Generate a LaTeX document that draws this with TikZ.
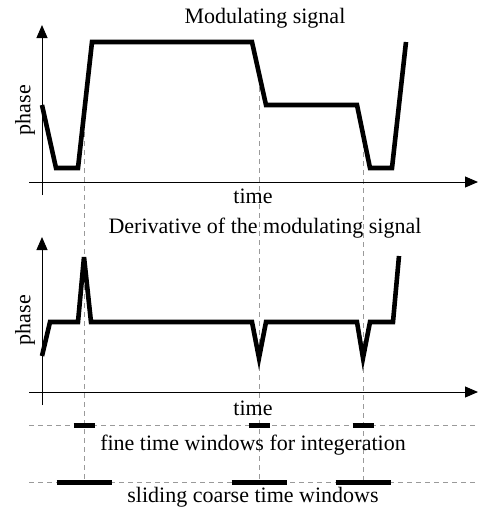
\documentclass[tikz,border=0pt]{standalone}
\usepackage{fontspec}
\setmainfont{Liberation Serif}
\usetikzlibrary{positioning, arrows.meta}
\definecolor{guidegray}{HTML}{9A9A9A}

\begin{document}
\begin{tikzpicture}[x=0.5pt, y=-0.5pt,
    every node/.style={font=\fontsize{11}{13}\selectfont, inner sep=0pt},
    axis/.style={line width=0.5pt, -{Triangle[length=6.5pt, width=5.5pt]}},
    signal/.style={line width=2.3pt},
    guide/.style={guidegray, dash pattern=on 2.5pt off 2pt, line width=0.45pt},
    window/.style={line width=2.5pt}]
  \useasboundingbox (0,0) rectangle (478,510);

  \coordinate (xs1) at (29,182);  \coordinate (xe1) at (478,182);
  \coordinate (ys1) at (42,195);  \coordinate (ye1) at (42,25);
  \coordinate (xs2) at (29,392);  \coordinate (xe2) at (478,392);
  \coordinate (ys2) at (42,405);  \coordinate (ye2) at (42,237);
  \coordinate (fs) at (29,425);   \coordinate (fe) at (478,425);
  \coordinate (cs) at (29,482);   \coordinate (ce) at (478,482);

  \draw[guide] (fs) -- (fe);
  \draw[guide] (cs) -- (ce);
  \foreach \gx/\gy [count=\i] in {84/114, 259/69, 363/134} {
    \coordinate (gtop\i) at (\gx,\gy);
    \coordinate (gbot\i) at (\gx,482);
    \draw[guide] (gtop\i) -- (gbot\i);
  }

  \draw[axis] (xs1) -- (xe1);
  \draw[axis] (ys1) -- (ye1);
  \draw[axis] (xs2) -- (xe2);
  \draw[axis] (ys2) -- (ye2);

  \draw[signal] (42,105) -- (56,168) -- (78,168) -- (92,42) -- (252,42)
    -- (266,105) -- (357,105) -- (370,168) -- (392,168) -- (406,42);
  \draw[signal] (42,356) -- (50,322) -- (78,322) -- (84,257) -- (91,322)
    -- (252,322) -- (259,358) -- (266,322) -- (357,322) -- (363,358)
    -- (370,322) -- (393,322) -- (399,256);

  \foreach \gx in {84,259,363} {
    \draw[window] (\gx-10.5,425) -- (\gx+10.5,425);
    \draw[window] (\gx-27.5,482) -- (\gx+27.5,482);
  }

  \node[anchor=base] (title1) at (265,23) {Modulating signal};
  \node[anchor=base] (title2) at (265,233) {Derivative of the modulating signal};
  \node[rotate=90] (phase1) at (25,110) {phase};
  \node[rotate=90] (phase2) at (25,320) {phase};
  \node[anchor=base] (time1) at (253,203) {time};
  \node[anchor=base] (time2) at (253,415) {time};
  \node[anchor=base] (fine) at (253,450) {fine time windows for integeration};
  \node[anchor=base] (coarse) at (253,502) {sliding coarse time windows};
\end{tikzpicture}
\end{document}
